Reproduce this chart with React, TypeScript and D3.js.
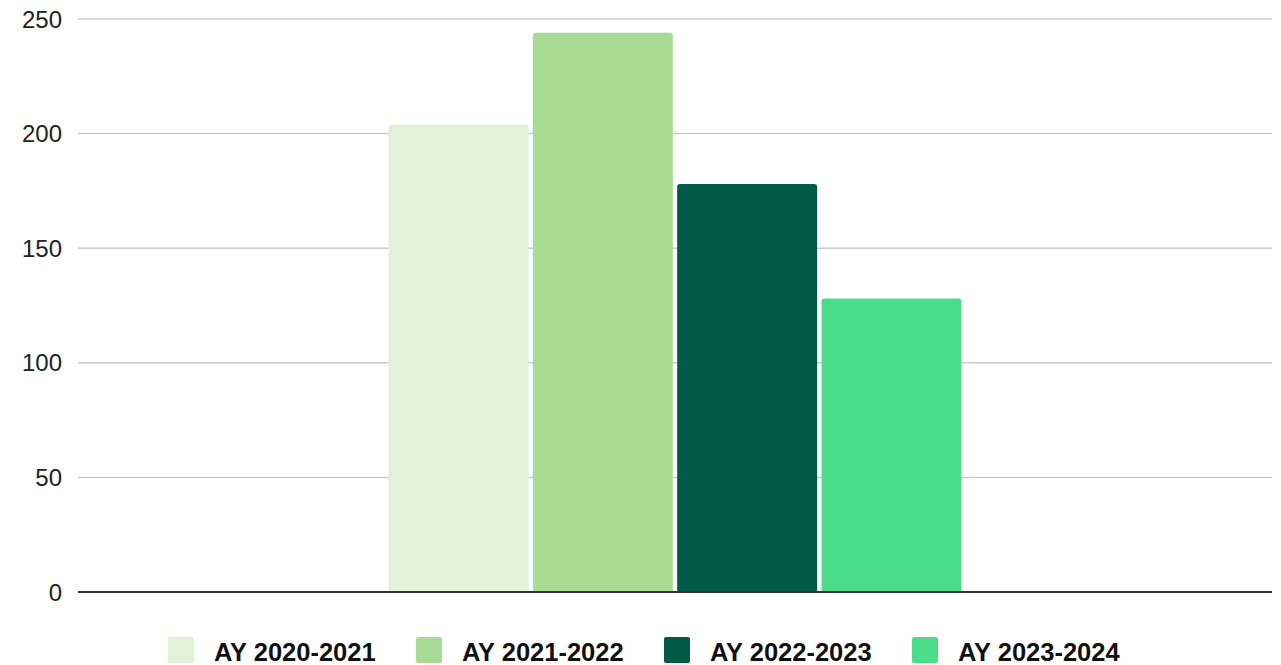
import React from "react";
import * as d3 from "d3";

const categories = ["Total"];
const seriesNames = ["AY 2020-2021", "AY 2021-2022", "AY 2022-2023", "AY 2023-2024"];
const seriesValues = [204, 244, 178, 128];
const seriesColors = ["#e1f2d9", "#a8dc94", "#015a46", "#4cdd8b"];
const yTicks = [0, 50, 100, 150, 200, 250];

const W = 1281;
const H = 665;
const FONT = "'Liberation Sans', Arial, Helvetica, sans-serif";

function topRoundedBar(x: number, y: number, w: number, h: number, r: number) {
  const rr = Math.min(r, w / 2, h);
  return `M${x},${y + h}V${y + rr}Q${x},${y} ${x + rr},${y}H${x + w - rr}Q${x + w},${y} ${x + w},${y + rr}V${y + h}Z`;
}

export default function App() {
  const plotLeft = 78;
  const plotRight = 1272;
  const y = d3.scaleLinear().domain([0, 250]).range([592, 19]);
  const x0 = d3.scaleBand<string>().domain(categories).range([plotLeft, plotRight]).paddingInner(0).paddingOuter(0.542);
  const x1 = d3.scaleBand<string>().domain(seriesNames).range([0, x0.bandwidth()]).paddingInner(0.03).paddingOuter(0);

  const legendPitch = 248;
  const legendStart = 168;

  return (
    <svg width={W} height={H} style={{ position: "absolute", left: 0, top: 0, background: "#fff" }} fontFamily={FONT}>
      <rect x={0} y={0} width={W} height={H} fill="#ffffff" />
      {yTicks.map((t) => (
        <g key={t}>
          {t !== 0 && (
            <line x1={plotLeft} x2={plotRight} y1={y(t)} y2={y(t)} stroke="#cccccc" strokeWidth={1.5} />
          )}
          <text x={62} y={y(t) + 8.5} textAnchor="end" fontSize={24} fill="#222">
            {t}
          </text>
        </g>
      ))}
      {categories.map((c) => (
        <g key={c} transform={`translate(${x0(c)},0)`}>
          {seriesNames.map((s, i) => {
            const v = seriesValues[i];
            const bx = x1(s)!;
            const by = y(v);
            return (
              <path key={s} d={topRoundedBar(bx, by, x1.bandwidth(), y(0) - by, 3)} fill={seriesColors[i]} />
            );
          })}
        </g>
      ))}
      <line x1={plotLeft} x2={plotRight} y1={y(0)} y2={y(0)} stroke="#333333" strokeWidth={2} />
      {seriesNames.map((s, i) => {
        const lx = legendStart + i * legendPitch;
        return (
          <g key={s}>
            <rect x={lx} y={637} width={26} height={26} rx={2} fill={seriesColors[i]} />
            <text x={lx + 46} y={661} fontSize={25.5} fontWeight="bold" fill="#111">
              {s}
            </text>
          </g>
        );
      })}
    </svg>
  );
}
